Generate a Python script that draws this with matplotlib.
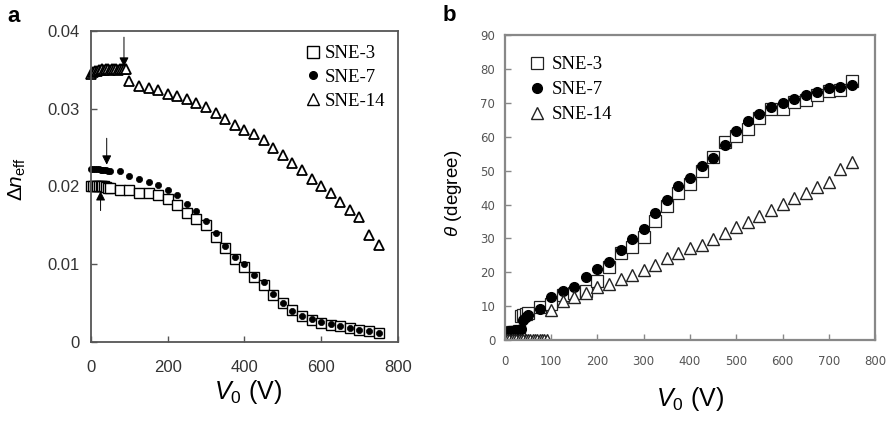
import matplotlib
matplotlib.use("Agg")
import matplotlib.pyplot as plt
from matplotlib.lines import Line2D

plt.rcParams['font.family'] = ['Liberation Sans', 'DejaVu Sans']
plt.rcParams['mathtext.fontset'] = 'custom'
plt.rcParams['mathtext.rm'] = 'Liberation Sans'
plt.rcParams['mathtext.it'] = 'Liberation Sans:italic'

# voltages (V) for each sample
V_3 = [0, 5, 10, 15, 20, 25, 30, 35, 40, 45, 50, 75, 100, 125, 150, 175, 200, 225, 250,
       275, 300, 325, 350, 375, 400, 425, 450, 475, 500, 525, 550, 575, 600, 625, 650,
       675, 700, 725, 750]
V_7 = V_3
V_14 = [0, 5, 10, 15, 20, 25, 30, 35, 40, 45, 50, 55, 60, 65, 70, 75, 80, 85, 90,
        100, 125, 150, 175, 200, 225, 250, 275, 300, 325, 350, 375, 400, 425, 450, 475,
        500, 525, 550, 575, 600, 625, 650, 675, 700, 725, 750]

# panel a: effective birefringence
dn_3 = [0.0200, 0.0201, 0.0201, 0.0201, 0.0201, 0.0200, 0.0200, 0.0200, 0.0199, 0.0198,
        0.0198, 0.0196, 0.0195, 0.0191, 0.0191, 0.0189, 0.0184, 0.0176, 0.0166, 0.0158,
        0.0150, 0.0135, 0.0121, 0.0107, 0.0097, 0.0084, 0.0073, 0.0060, 0.0050, 0.0041,
        0.0033, 0.0028, 0.0025, 0.0022, 0.0020, 0.0018, 0.0015, 0.0014, 0.0011]
dn_7 = [0.0222, 0.0222, 0.0222, 0.0222, 0.0222, 0.0221, 0.0221, 0.0221, 0.0221, 0.0220,
        0.0220, 0.0220, 0.0214, 0.0210, 0.0206, 0.0202, 0.0195, 0.0189, 0.0178, 0.0168,
        0.0156, 0.0140, 0.0124, 0.0109, 0.0100, 0.0086, 0.0077, 0.0062, 0.0050, 0.0040,
        0.0034, 0.0029, 0.0026, 0.0023, 0.0020, 0.0018, 0.0015, 0.0014, 0.0012]
dn_14 = [0.0345, 0.0347, 0.0348, 0.0349, 0.0350, 0.0350, 0.0351, 0.0350, 0.0351, 0.0351,
         0.0350, 0.0351, 0.0351, 0.0351, 0.0350, 0.0351, 0.0351, 0.0351, 0.0351,
         0.0336, 0.0329, 0.0327, 0.0324, 0.0319, 0.0316, 0.0312, 0.0307, 0.0302, 0.0295,
         0.0287, 0.0279, 0.0272, 0.0268, 0.0260, 0.0250, 0.0240, 0.0230, 0.0221, 0.0210,
         0.0200, 0.0191, 0.0180, 0.0170, 0.0161, 0.0138, 0.0125]

# panel b: tilt angle (degree)
th_3 = [0.3, 2.1, 2.2, 2.3, 2.4, 2.5, 2.6, 7.2, 7.5, 7.7, 8.0, 9.8, 10.8, 13.3, 14.0, 14.6,
        17.4, 21.6, 25.6, 27.5, 30.5, 35.1, 39.5, 43.5, 46.0, 49.9, 54.1, 58.5, 60.2, 62.4,
        65.6, 68.1, 68.3, 70.3, 70.8, 72.3, 73.6, 73.7, 76.4]
th_7 = [0.5, 2.0, 2.6, 2.7, 2.8, 2.9, 3.1, 3.3, 6.0, 6.8, 7.4, 9.2, 12.6, 14.4, 15.8, 18.5,
        20.9, 23.0, 26.5, 29.7, 32.8, 37.6, 41.4, 45.4, 47.8, 51.5, 53.8, 57.6, 61.7, 64.7,
        66.6, 68.7, 69.9, 71.2, 72.3, 73.3, 74.4, 74.7, 75.2]
th_14 = [0, 0, 0, 0, 0, 0, 0, 0, 0, 0, 0, 0, 0, 0, 0, 0, 0, 0, 0,
         8.8, 11.6, 12.8, 14.0, 15.7, 16.7, 17.9, 19.2, 20.6, 22.1, 24.1, 25.8, 27.3, 28.2,
         29.7, 31.7, 33.4, 34.9, 36.6, 38.3, 40.3, 41.8, 43.5, 45.2, 46.5, 50.6, 52.4]

labels = ['SNE-3', 'SNE-7', 'SNE-14']
xticks = [0, 200, 400, 600, 800]
yticks_a = [0, 0.01, 0.02, 0.03, 0.04]
yticklabels_a = ['0', '0.01', '0.02', '0.03', '0.04']
xticks_b = [0, 100, 200, 300, 400, 500, 600, 700, 800]
yticks_b = [0, 10, 20, 30, 40, 50, 60, 70, 80, 90]

fig = plt.figure(figsize=(8.92, 4.22), dpi=100)

# ---------- panel a ----------
axa = fig.add_axes([0.102, 0.1896, 0.344, 0.737])
axa.plot(V_3, dn_3, ls='none', marker='s', ms=7.5, mfc='white', mec='black', mew=1.0, clip_on=False)
axa.plot(V_7, dn_7, ls='none', marker='o', ms=4.5, mfc='black', mec='black', mew=0.5, clip_on=False)
axa.plot(V_14, dn_14, ls='none', marker='^', ms=7, mfc='white', mec='black', mew=1.3, clip_on=False)
axa.set_xlim(0, 800)
axa.set_ylim(0, 0.04)
axa.set_xticks(xticks)
axa.set_xticklabels([str(t) for t in xticks])
axa.set_yticks(yticks_a)
axa.set_yticklabels(yticklabels_a)
axa.tick_params(direction='in', length=4, width=1, color='#555555', labelcolor='#333333',
                labelsize=12)
axa.tick_params(axis='y', pad=8)
axa.tick_params(axis='x', pad=13)
for s in axa.spines.values():
    s.set_color('#555555')
    s.set_linewidth(1.3)

# arrows marking thresholds
arr = dict(arrowstyle='-|>', color='black', lw=0.7, mutation_scale=14, shrinkA=0, shrinkB=0)
axa.annotate('', xy=(86, 0.0354), xytext=(86, 0.0392), arrowprops=arr)
axa.annotate('', xy=(41, 0.0228), xytext=(41, 0.0262), arrowprops=arr)
axa.annotate('', xy=(25, 0.0194), xytext=(25, 0.0169), arrowprops=arr)

axa.set_xlabel(r'$\mathit{V}_0$ (V)', fontsize=18)
axa.xaxis.set_label_coords(0.51, -0.161)
axa.xaxis.label.set_va('center')
axa.set_ylabel(r'$\mathit{\Delta n}_{\mathrm{eff}}$', fontsize=15)
axa.yaxis.set_label_coords(-0.241, 0.524)
axa.yaxis.label.set_va('center')

ha = [Line2D([], [], ls='none', marker='s', ms=8, mfc='white', mec='black', mew=1.0),
      Line2D([], [], ls='none', marker='o', ms=5.5, mfc='black', mec='black'),
      Line2D([], [], ls='none', marker='^', ms=8, mfc='white', mec='black', mew=1.0)]
axa.legend(ha, labels, loc='upper left', bbox_to_anchor=(305.5 / 892, 1 - 45 / 422),
           bbox_transform=fig.transFigure, frameon=False, borderpad=0, borderaxespad=0,
           handlelength=0.8, handletextpad=0.25, labelspacing=0.36,
           prop={'family': 'Liberation Serif', 'size': 13.5})

# ---------- panel b ----------
axb = fig.add_axes([0.566, 0.194, 0.415, 0.723])
axb.plot(V_3, th_3, ls='none', marker='s', ms=8.5, mfc='white', mec='#222222', mew=0.9)
axb.plot(V_7, th_7, ls='none', marker='o', ms=7, mfc='black', mec='black')
axb.plot(V_14, th_14, ls='none', marker='^', ms=8.5, mfc='white', mec='#222222', mew=1.0)
axb.set_xlim(0, 800)
axb.set_ylim(0, 90)
axb.set_xticks(xticks_b)
axb.set_yticks(yticks_b)
axb.tick_params(direction='in', length=4, width=1, color='#888888', labelcolor='#555555',
                labelsize=8.5)
axb.tick_params(axis='y', pad=7)
axb.tick_params(axis='x', pad=11)
for lab in axb.get_xticklabels() + axb.get_yticklabels():
    lab.set_family('DejaVu Sans')
for s in axb.spines.values():
    s.set_color('#888888')
    s.set_linewidth(1.6)

axb.set_xlabel(r'$\mathit{V}_0$ (V)', fontsize=18)
axb.xaxis.set_label_coords(0.5, -0.193)
axb.xaxis.label.set_va('center')
axb.set_ylabel(r'$\mathit{\theta}$ (degree)', fontsize=13.5)
axb.yaxis.set_label_coords(-0.138, 0.482)
axb.yaxis.label.set_va('center')

hb = [Line2D([], [], ls='none', marker='s', ms=8.5, mfc='white', mec='#222222', mew=0.9),
      Line2D([], [], ls='none', marker='o', ms=7, mfc='black', mec='black'),
      Line2D([], [], ls='none', marker='^', ms=8.5, mfc='white', mec='#222222', mew=1.0)]
axb.legend(hb, labels, loc='upper left', bbox_to_anchor=(529.5 / 892, 1 - 56 / 422),
           bbox_transform=fig.transFigure, frameon=False, borderpad=0, borderaxespad=0,
           handlelength=0.8, handletextpad=0.4, labelspacing=0.42,
           prop={'family': 'Liberation Serif', 'size': 13.5})

fig.text(7 / 892, 1 - 22 / 422, 'a', fontsize=16, fontweight='bold', va='baseline')
fig.text(443 / 892, 1 - 21 / 422, 'b', fontsize=16, fontweight='bold', va='baseline')

fig.savefig('out.png', dpi=100)
